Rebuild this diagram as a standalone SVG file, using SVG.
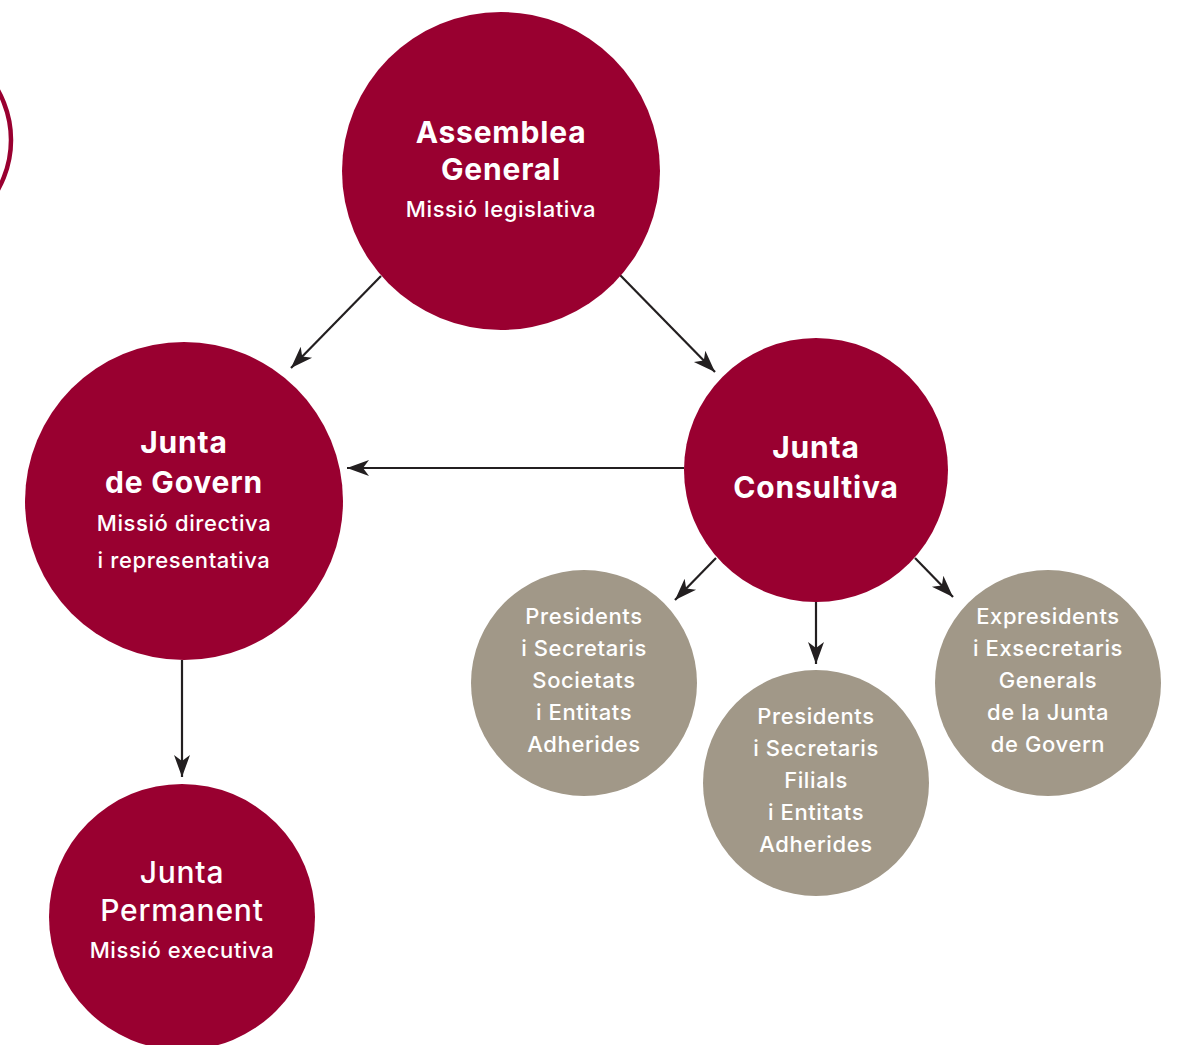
<svg xmlns="http://www.w3.org/2000/svg" width="1179" height="1045" viewBox="0 0 1179 1045">
<style>
.red{fill:#990030}
.gray{fill:#a19888}
text{font-family:Inter,"Liberation Sans",Arial,sans-serif;fill:#fff;text-anchor:middle}
.t{font-size:30px;font-weight:700;letter-spacing:0.8px}
.tm{font-size:30px;font-weight:500;letter-spacing:0.8px}
.s{font-size:22px;font-weight:500;letter-spacing:0.6px}
.g{font-size:22px;font-weight:500;letter-spacing:0.6px}
.c{stroke:#231f20;stroke-width:2.2;fill:none;marker-end:url(#ah)}
</style>
<defs>
<marker id="ah" viewBox="-22 -9 24 18" refX="0" refY="0" markerUnits="userSpaceOnUse" markerWidth="24" markerHeight="18" orient="auto">
<path d="M0,0 L-22,-8 L-16,0 L-22,8 Z" fill="#231f20"/>
</marker>
</defs>
<rect width="1179" height="1045" fill="#fff"/>
<circle cx="-90" cy="140" r="101" fill="none" stroke="#990030" stroke-width="4.5"/>
<g id="connectors">
<line class="c" x1="381" y1="276" x2="291" y2="368"/>
<line class="c" x1="620" y1="275" x2="715" y2="372"/>
<line class="c" x1="684" y1="468" x2="347" y2="468"/>
<line class="c" x1="716" y1="558" x2="675" y2="600"/>
<line class="c" x1="816" y1="602" x2="816" y2="664"/>
<line class="c" x1="915" y1="558" x2="953" y2="597"/>
<line class="c" x1="182" y1="660" x2="182" y2="777"/>
</g>
<g id="assemblea">
<circle class="red" cx="501" cy="171" r="159"/>
<text class="t" x="501" y="143">Assemblea</text>
<text class="t" x="501" y="180">General</text>
<text class="s" x="501" y="217">Missió legislativa</text>
</g>
<g id="govern">
<circle class="red" cx="184" cy="501" r="159"/>
<text class="t" x="184" y="453">Junta</text>
<text class="t" x="184" y="493">de Govern</text>
<text class="s" x="184" y="531">Missió directiva</text>
<text class="s" x="184" y="568">i representativa</text>
</g>
<g id="consultiva">
<circle class="red" cx="816" cy="470" r="132"/>
<text class="t" x="816" y="458">Junta</text>
<text class="t" x="816" y="498">Consultiva</text>
</g>
<g id="permanent">
<circle class="red" cx="182" cy="917" r="133"/>
<text class="tm" x="182" y="883">Junta</text>
<text class="tm" x="182" y="921">Permanent</text>
<text class="s" x="182" y="958">Missió executiva</text>
</g>
<g id="societats">
<circle class="gray" cx="584" cy="683" r="113"/>
<text class="g" x="584" y="624">Presidents</text>
<text class="g" x="584" y="656">i Secretaris</text>
<text class="g" x="584" y="688">Societats</text>
<text class="g" x="584" y="720">i Entitats</text>
<text class="g" x="584" y="752">Adherides</text>
</g>
<g id="filials">
<circle class="gray" cx="816" cy="783" r="113"/>
<text class="g" x="816" y="724">Presidents</text>
<text class="g" x="816" y="756">i Secretaris</text>
<text class="g" x="816" y="788">Filials</text>
<text class="g" x="816" y="820">i Entitats</text>
<text class="g" x="816" y="852">Adherides</text>
</g>
<g id="expresidents">
<circle class="gray" cx="1048" cy="683" r="113"/>
<text class="g" x="1048" y="624">Expresidents</text>
<text class="g" x="1048" y="656">i Exsecretaris</text>
<text class="g" x="1048" y="688">Generals</text>
<text class="g" x="1048" y="720">de la Junta</text>
<text class="g" x="1048" y="752">de Govern</text>
</g>
</svg>
